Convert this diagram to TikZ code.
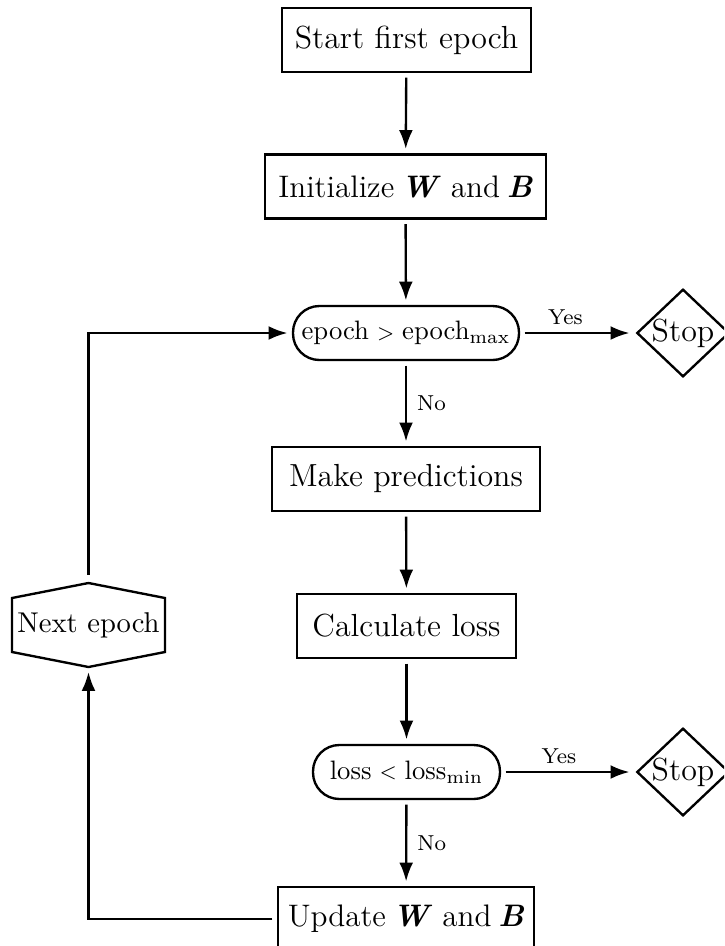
\documentclass[tikz,border=0pt]{standalone}
\usetikzlibrary{shapes.geometric,arrows.meta,calc}
\newcommand{\smallrel}[1]{{\fontsize{7.5}{9}\selectfont\raisebox{0.2pt}{#1}}}
\newcommand{\bvec}[1]{\kern-1.2pt\textbf{\textit{#1}}}
\begin{document}
\begin{tikzpicture}[x=0.36pt,y=-0.36pt,
  every node/.style={font=\fontsize{11.5}{13}\selectfont, outer sep=2pt},
  proc/.style={draw, rectangle, line width=0.85pt, minimum height=64*0.36pt, inner sep=0pt},
  dec/.style={draw, rectangle, rounded corners=9.5pt, line width=0.85pt, minimum height=54*0.36pt, inner sep=0pt, font=\fontsize{9.6}{12}\selectfont},
  stopnode/.style={draw, diamond, line width=0.85pt, minimum width=96*0.36pt, minimum height=75*0.36pt, inner sep=0pt},
  conn/.style={line width=0.85pt, -{Latex[length=6.8pt,width=5pt]}},
  wire/.style={line width=0.85pt},
  lab/.style={font=\fontsize{7.8}{9}\selectfont, inner sep=1pt}
]
\clip (0,0) rectangle (724,946);
\node[proc, minimum width=249*0.36pt] (start) at (406.5,40) {Start first epoch};
\node[proc, minimum width=281*0.36pt, font=\fontsize{11.2}{13}\selectfont] (init) at (405.5,186.5) {Initialize \bvec{W} and \bvec{B}};
\node[dec, minimum width=226*0.36pt] (dec1) at (406,333) {epoch\hspace{0.3em}\smallrel{>}\hspace{0.3em}epoch\textsubscript{max}};
\node[stopnode] (stop1) at (683,333) {Stop};
\node[proc, minimum width=268*0.36pt] (make) at (406,479) {Make predictions};
\node[proc, minimum width=219*0.36pt] (calc) at (406.5,626) {Calculate loss};
\node[dec, minimum width=187*0.36pt] (dec2) at (406.5,772) {loss\hspace{0.3em}\smallrel{<}\hspace{0.3em}loss\textsubscript{min}};
\node[stopnode] (stop2) at (683,772) {Stop};
\node[proc, minimum width=256*0.36pt, font=\fontsize{11.2}{13}\selectfont] (upd) at (406,919) {Update \bvec{W} and \bvec{B}};
\node[minimum width=153*0.36pt, minimum height=54*0.36pt, inner sep=0pt, outer sep=0pt, font=\fontsize{10.3}{12}\selectfont] (next) at (88.5,625) {Next epoch};
\draw[wire] (next.north west) -- ($(next.north)+(0,-15)$) coordinate (ntop)
  -- (next.north east) -- (next.south east) -- ($(next.south)+(0,15)$) coordinate (nbot)
  -- (next.south west) -- cycle;

\draw[conn] (start) -- (init);
\draw[conn] (init) -- (dec1);
\draw[conn] (dec1) -- node[lab, above, pos=0.39] {Yes} (stop1);
\draw[conn] (dec1) -- node[lab, right, xshift=1pt] {No} (make);
\draw[conn] (make) -- (calc);
\draw[conn] (calc) -- (dec2);
\draw[conn] (dec2) -- node[lab, above, pos=0.43] {Yes} (stop2);
\draw[conn] (dec2) -- node[lab, right, xshift=1pt] {No} (upd);
\draw[conn, shorten >=1.8pt] (upd.west) -| (nbot);
\draw[conn, shorten <=2.9pt] (ntop) |- (dec1.west);
\end{tikzpicture}
\end{document}
